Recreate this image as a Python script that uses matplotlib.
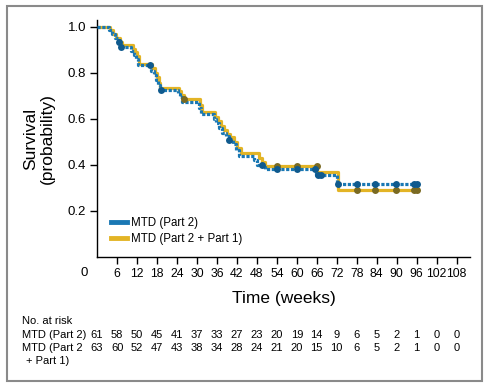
import matplotlib
matplotlib.use('Agg')
import matplotlib.pyplot as plt
import matplotlib.transforms as mtransforms
from matplotlib.lines import Line2D
from matplotlib.patches import Rectangle

plt.rcParams['font.family'] = ['Liberation Sans', 'DejaVu Sans']

# MTD (Part 2) step curve
t_p2 = [0, 3.5, 4.5, 5.5, 6.5, 7.0, 10.3, 11.0, 11.7, 12.2, 16.3, 17.0, 17.6, 18.2, 18.8,
        24.3, 25.0, 25.6, 30.6, 31.2, 35.0, 35.8, 36.6, 37.4, 38.6, 39.6, 40.8, 41.6, 42.6,
        47.0, 48.0, 50.5, 65.8, 72.0, 96.5]
s_p2 = [1.0, 0.984, 0.967, 0.951, 0.934, 0.912, 0.895, 0.877, 0.86, 0.835, 0.81, 0.79, 0.77, 0.748, 0.725,
        0.71, 0.695, 0.672, 0.647, 0.622, 0.60, 0.58, 0.56, 0.54, 0.525, 0.509, 0.49, 0.465, 0.44,
        0.42, 0.40, 0.381, 0.357, 0.316, 0.316]
cens_t_p2 = [6.6, 7.2, 15.9, 19.2, 39.6, 49.5, 54, 60.2, 65.5, 66.3, 67.2, 72.3, 78, 83.5, 89.8, 95.2, 96.2]
cens_s_p2 = [0.934, 0.912, 0.835, 0.725, 0.509, 0.40, 0.381, 0.381, 0.381, 0.357, 0.357,
             0.316, 0.316, 0.316, 0.316, 0.316, 0.316]

# MTD (Part 2 + Part 1) step curve
t_all = [0, 3.8, 4.8, 5.8, 6.8, 7.5, 10.8, 11.5, 12.0, 12.6, 16.5, 17.3, 17.9, 18.5, 19.0,
         24.5, 25.3, 26.0, 31.0, 31.6, 35.5, 36.3, 37.1, 38.0, 39.0, 40.0, 41.2, 42.0, 43.2,
         48.5, 49.5, 50.3, 66.2, 72.5, 96.5]
s_all = [1.0, 0.984, 0.968, 0.952, 0.936, 0.92, 0.905, 0.889, 0.873, 0.84, 0.82, 0.80, 0.78, 0.755, 0.735,
         0.72, 0.705, 0.686, 0.66, 0.632, 0.61, 0.59, 0.57, 0.55, 0.535, 0.52, 0.50, 0.475, 0.453,
         0.43, 0.413, 0.397, 0.368, 0.291, 0.291]
cens_t_all = [26.2, 54, 60.2, 66.0, 78, 83.5, 89.8, 95.2, 96.2]
cens_s_all = [0.686, 0.397, 0.397, 0.397, 0.291, 0.291, 0.291, 0.291, 0.291]

xticks = list(range(6, 109, 6))
yticks = [0.2, 0.4, 0.6, 0.8, 1.0]
risk_times = list(range(0, 109, 6))
risk_p2 = [61, 58, 50, 45, 41, 37, 33, 27, 23, 20, 19, 14, 9, 6, 5, 2, 1, 0, 0]
risk_all = [63, 60, 52, 47, 43, 38, 34, 28, 24, 21, 20, 15, 10, 6, 5, 2, 1, 0, 0]

blue = '#1a78b4'
gold = '#e3b425'
blue_dot = '#0f5a8e'
gold_dot = '#7a6a22'

fig = plt.figure(figsize=(4.93, 3.9), dpi=100)
ax = fig.add_axes([0.197, 0.341, 0.756, 0.608])

ax.step(t_all, s_all, where='post', color=gold, lw=2.3, zorder=2)
ax.step(t_p2, s_p2, where='post', color=blue, lw=2.3, linestyle=(0, (1.0, 0.5)), zorder=3)
ax.plot(cens_t_all, cens_s_all, 'o', color=gold_dot, ms=5, mec='none', zorder=4)
ax.plot(cens_t_p2, cens_s_p2, 'o', color=blue_dot, ms=5, mec='none', zorder=5)

ax.set_xlim(0, 112)
ax.set_ylim(0, 1.03)
ax.set_xticks(xticks)
ax.set_yticks(yticks)
ax.set_yticklabels(['0.2', '0.4', '0.6', '0.8', '1.0'])
ax.tick_params(labelsize=9.5, length=5, width=1, color='black', pad=3)
ax.tick_params(axis='x', labelsize=8.8)
for s in ['top', 'right']:
    ax.spines[s].set_visible(False)
for s in ['left', 'bottom']:
    ax.spines[s].set_linewidth(1)
ax.text(-4, -0.045, '0', ha='center', va='top', fontsize=9.5)

ax.set_xlabel('Time (weeks)', fontsize=12.5, labelpad=8)
ax.set_ylabel('Survival\n(probability)', fontsize=12.5, labelpad=9, linespacing=1.15)

handles = [Line2D([], [], color=blue, lw=3.5), Line2D([], [], color=gold, lw=3.5)]
ax.legend(handles, ['MTD (Part 2)', 'MTD (Part 2 + Part 1)'], loc='lower left',
          bbox_to_anchor=(0.025, 0.03), frameon=False, fontsize=8.3, handlelength=1.4,
          handletextpad=0.3, labelspacing=0.4, borderaxespad=0)

# number at risk table
tr = mtransforms.blended_transform_factory(ax.transData, fig.transFigure)
fig.text(22 / 493, 1 - 321 / 390, 'No. at risk', fontsize=8, va='center')
fig.text(22 / 493, 1 - 335.5 / 390, 'MTD (Part 2)', fontsize=8, va='center')
fig.text(22 / 493, 1 - 348 / 390, 'MTD (Part 2', fontsize=8, va='center')
fig.text(26 / 493, 1 - 361 / 390, '+ Part 1)', fontsize=8, va='center')
for t, a, b in zip(risk_times, risk_p2, risk_all):
    ax.text(t, 1 - 335.5 / 390, str(a), transform=tr, fontsize=8, ha='center', va='center')
    ax.text(t, 1 - 348 / 390, str(b), transform=tr, fontsize=8, ha='center', va='center')

fig.patches.append(Rectangle((7 / 493, 1 - 381 / 390), 475 / 493, 375 / 390,
                             transform=fig.transFigure, fill=False, edgecolor='#8a8a8a', lw=1.5))

fig.savefig('out.png', dpi=100)
